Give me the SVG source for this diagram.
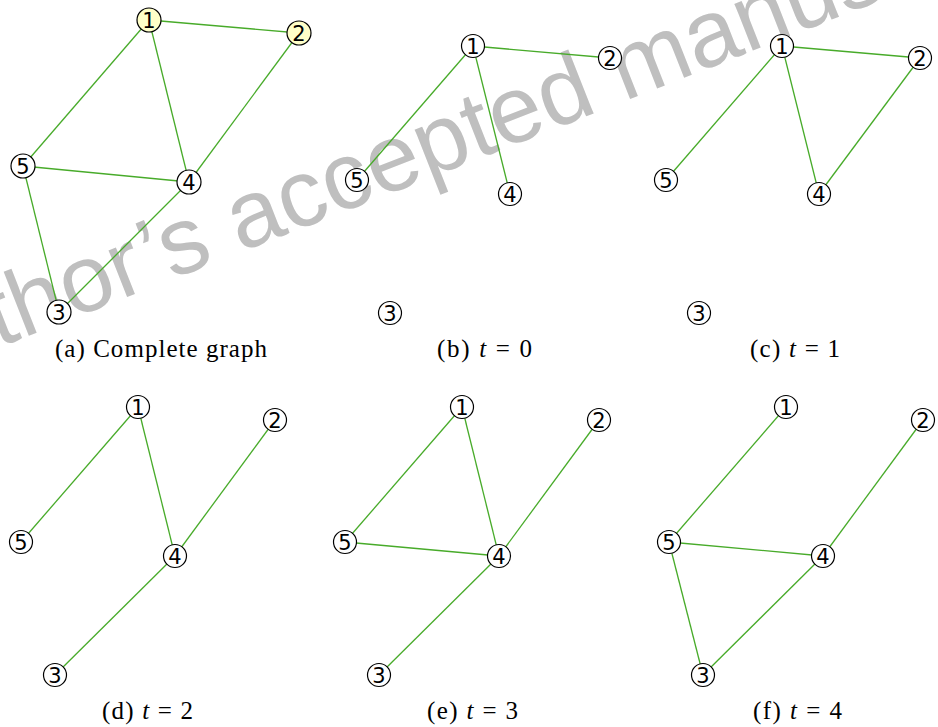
<svg xmlns="http://www.w3.org/2000/svg" width="938" height="727" viewBox="0 0 938 727">
<style>
.wm{font-family:"Liberation Sans",Arial,sans-serif;font-size:95px;fill:#bfbfbf}
.e{stroke:#48ab2a;stroke-width:1.3;fill:none}
.n circle{fill:#fff;stroke:#000;stroke-width:1.2}
.n.y circle{fill:#ffffc8}
.n text{font-family:"DejaVu Sans",sans-serif;font-size:21px;text-anchor:middle;fill:#000}
.cap{font-family:"Liberation Serif",serif;font-size:25px;text-anchor:middle;fill:#000}
.cap .i{font-style:italic}
</style>
<rect width="938" height="727" fill="#fff"/>
<text class="wm" transform="translate(239,253) rotate(-21.5)" x="-375" y="0">Author’s accepted manuscript</text>
<g id="connectors">
<line class="e" x1="149" y1="20" x2="299" y2="33"/>
<line class="e" x1="149" y1="20" x2="23" y2="166"/>
<line class="e" x1="149" y1="20" x2="189" y2="182"/>
<line class="e" x1="299" y1="33" x2="189" y2="182"/>
<line class="e" x1="23" y1="166" x2="189" y2="182"/>
<line class="e" x1="23" y1="166" x2="59" y2="312"/>
<line class="e" x1="189" y1="182" x2="59" y2="312"/>
<line class="e" x1="473" y1="46" x2="610" y2="58"/>
<line class="e" x1="473" y1="46" x2="357" y2="180"/>
<line class="e" x1="473" y1="46" x2="510" y2="194"/>
<line class="e" x1="782" y1="46" x2="920" y2="58"/>
<line class="e" x1="782" y1="46" x2="666" y2="180"/>
<line class="e" x1="782" y1="46" x2="819" y2="194"/>
<line class="e" x1="920" y1="58" x2="819" y2="194"/>
<line class="e" x1="138" y1="407" x2="21" y2="542"/>
<line class="e" x1="138" y1="407" x2="175" y2="556"/>
<line class="e" x1="275" y1="420" x2="175" y2="556"/>
<line class="e" x1="175" y1="556" x2="55" y2="675"/>
<line class="e" x1="462" y1="407" x2="345" y2="542"/>
<line class="e" x1="462" y1="407" x2="499" y2="556"/>
<line class="e" x1="599" y1="420" x2="499" y2="556"/>
<line class="e" x1="345" y1="542" x2="499" y2="556"/>
<line class="e" x1="499" y1="556" x2="379" y2="675"/>
<line class="e" x1="786" y1="407" x2="669" y2="542"/>
<line class="e" x1="923" y1="420" x2="823" y2="556"/>
<line class="e" x1="669" y1="542" x2="823" y2="556"/>
<line class="e" x1="669" y1="542" x2="703" y2="675"/>
<line class="e" x1="823" y1="556" x2="703" y2="675"/>
</g>
<g id="a-n1" class="n y"><circle cx="149" cy="20" r="12"/><text x="149" y="27.6">1</text></g>
<g id="a-n2" class="n y"><circle cx="299" cy="33" r="12"/><text x="299" y="40.6">2</text></g>
<g id="a-n5" class="n"><circle cx="23" cy="166" r="12"/><text x="23" y="173.6">5</text></g>
<g id="a-n4" class="n"><circle cx="189" cy="182" r="12"/><text x="189" y="189.6">4</text></g>
<g id="a-n3" class="n"><circle cx="59" cy="312" r="12"/><text x="59" y="319.6">3</text></g>
<g id="b-n1" class="n"><circle cx="473" cy="46" r="11.5"/><text x="473" y="53.6">1</text></g>
<g id="b-n2" class="n"><circle cx="610" cy="58" r="11.5"/><text x="610" y="65.6">2</text></g>
<g id="b-n5" class="n"><circle cx="357" cy="180" r="11.5"/><text x="357" y="187.6">5</text></g>
<g id="b-n4" class="n"><circle cx="510" cy="194" r="11.5"/><text x="510" y="201.6">4</text></g>
<g id="b-n3" class="n"><circle cx="390" cy="313" r="11.5"/><text x="390" y="320.6">3</text></g>
<g id="c-n1" class="n"><circle cx="782" cy="46" r="11.5"/><text x="782" y="53.6">1</text></g>
<g id="c-n2" class="n"><circle cx="920" cy="58" r="11.5"/><text x="920" y="65.6">2</text></g>
<g id="c-n5" class="n"><circle cx="666" cy="180" r="11.5"/><text x="666" y="187.6">5</text></g>
<g id="c-n4" class="n"><circle cx="819" cy="194" r="11.5"/><text x="819" y="201.6">4</text></g>
<g id="c-n3" class="n"><circle cx="699" cy="313" r="11.5"/><text x="699" y="320.6">3</text></g>
<g id="d-n1" class="n"><circle cx="138" cy="407" r="11.5"/><text x="138" y="414.6">1</text></g>
<g id="d-n2" class="n"><circle cx="275" cy="420" r="11.5"/><text x="275" y="427.6">2</text></g>
<g id="d-n5" class="n"><circle cx="21" cy="542" r="11.5"/><text x="21" y="549.6">5</text></g>
<g id="d-n4" class="n"><circle cx="175" cy="556" r="11.5"/><text x="175" y="563.6">4</text></g>
<g id="d-n3" class="n"><circle cx="55" cy="675" r="11.5"/><text x="55" y="682.6">3</text></g>
<g id="e-n1" class="n"><circle cx="462" cy="407" r="11.5"/><text x="462" y="414.6">1</text></g>
<g id="e-n2" class="n"><circle cx="599" cy="420" r="11.5"/><text x="599" y="427.6">2</text></g>
<g id="e-n5" class="n"><circle cx="345" cy="542" r="11.5"/><text x="345" y="549.6">5</text></g>
<g id="e-n4" class="n"><circle cx="499" cy="556" r="11.5"/><text x="499" y="563.6">4</text></g>
<g id="e-n3" class="n"><circle cx="379" cy="675" r="11.5"/><text x="379" y="682.6">3</text></g>
<g id="f-n1" class="n"><circle cx="786" cy="407" r="11.5"/><text x="786" y="414.6">1</text></g>
<g id="f-n2" class="n"><circle cx="923" cy="420" r="11.5"/><text x="923" y="427.6">2</text></g>
<g id="f-n5" class="n"><circle cx="669" cy="542" r="11.5"/><text x="669" y="549.6">5</text></g>
<g id="f-n4" class="n"><circle cx="823" cy="556" r="11.5"/><text x="823" y="563.6">4</text></g>
<g id="f-n3" class="n"><circle cx="703" cy="675" r="11.5"/><text x="703" y="682.6">3</text></g>
<g id="captions">
<text class="cap" x="161" y="357" textLength="212">(a) Complete graph</text>
<text class="cap" x="484.5" y="357" textLength="95">(b) <tspan class="i">t</tspan> = 0</text>
<text class="cap" x="795" y="357" textLength="90">(c) <tspan class="i">t</tspan> = 1</text>
<text class="cap" x="147.5" y="719" textLength="91">(d) <tspan class="i">t</tspan> = 2</text>
<text class="cap" x="472.5" y="719" textLength="91">(e) <tspan class="i">t</tspan> = 3</text>
<text class="cap" x="797.5" y="719" textLength="89">(f) <tspan class="i">t</tspan> = 4</text>
</g>
</svg>
